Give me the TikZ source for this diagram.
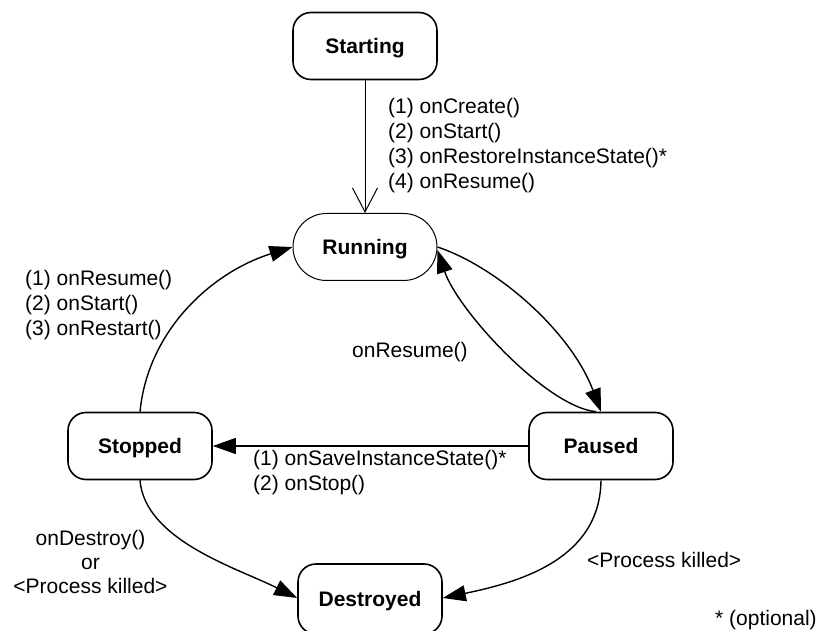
\documentclass[tikz,border=0pt]{standalone}
\usepackage{fontspec}
\setmainfont{Liberation Sans}
\usetikzlibrary{arrows.meta}
\begin{document}
\begin{tikzpicture}[x=1pt,y=-1pt,
  state/.style={draw, line width=1.6pt, rounded corners=18pt, minimum width=144pt, minimum height=67pt, inner sep=0pt, font=\fontsize{21}{25}\selectfont\bfseries, text height=15pt, text depth=0pt},
  pill/.style={state, line width=1pt, rounded corners=33.5pt},
  arr/.style={line width=1.4pt, -{Triangle[length=23pt,width=16pt]}},
  lbl/.style={inner sep=0pt, font=\fontsize{21}{25}\selectfont, align=left}]
\useasboundingbox (0,0) rectangle (820,631);
\node[state] (start) at (365,46) {Starting};
\node[pill] (run) at (365,247) {Running};
\node[state] (stop) at (140,446) {Stopped};
\node[state] (pau) at (601,446) {Paused};
\node[state, minimum height=70pt] (des) at (370,599) {Destroyed};
\draw[line width=1pt, -{Straight Barb[length=24pt,width=25pt]}] (start) -- (run);
\draw[arr] (run.east) .. controls +(60,20) and +(-30,-80) .. (pau.north);
\draw[arr] ([xshift=-5pt]pau.north) .. controls +(-50,-5) and +(20,60) .. ([yshift=-3pt]run.east);
\draw[arr] (pau) -- (stop);
\draw[arr] (stop.north) .. controls +(8,-82) and +(-80,25) .. (run.west);
\draw[arr] (stop.south) .. controls +(5,60) and +(-60,-30) .. ([yshift=1pt]des.west);
\draw[arr] (pau.south) .. controls +(-1,79) and +(77,-16) .. ([yshift=1pt]des.east);
\node[lbl, anchor=north west] (l1) at (388,95) {\rule{0pt}{18pt}(1) onCreate()\\(2) onStart()\\(3) onRestoreInstanceState()*\\(4) onResume()};
\node[lbl, anchor=north west] (l2) at (25,267) {\rule{0pt}{18pt}(1) onResume()\\(2) onStart()\\(3) onRestart()};
\node[lbl, anchor=base west] (l3) at (352,357) {onResume()};
\node[lbl, anchor=north west] (l4) at (253,447) {\rule{0pt}{18pt}(1) onSaveInstanceState()*\\(2) onStop()};
\node[lbl, anchor=north, align=center, font=\fontsize{21}{24}\selectfont] (l5) at (90.5,527) {\rule{0pt}{18pt}onDestroy()\\or\\<Process killed>};
\node[lbl, anchor=base west] (l6) at (587,567) {<Process killed>};
\node[lbl, anchor=base west] (l7) at (715,625) {* (optional)};
\end{tikzpicture}
\end{document}
